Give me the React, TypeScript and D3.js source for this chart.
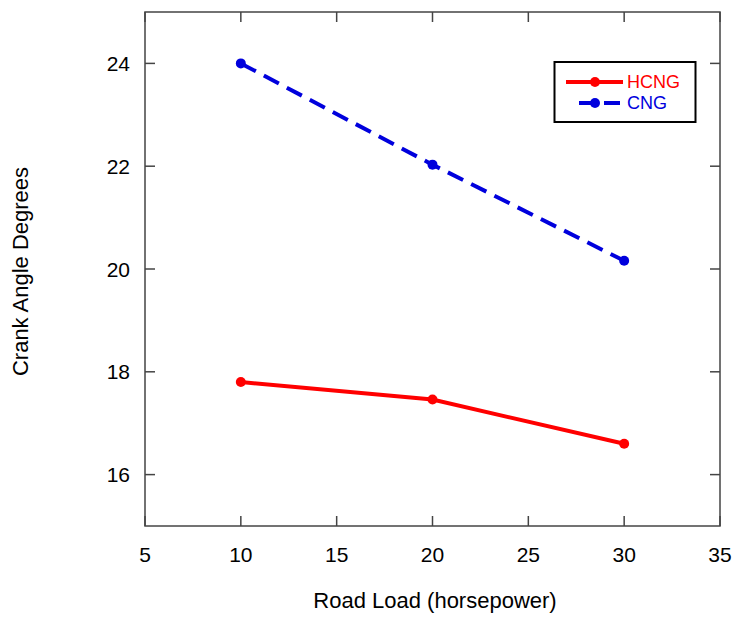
import React from "react";
import * as d3 from "d3";

const loads = [10, 20, 30];
const hcng = [17.8, 17.46, 16.6];
const cng = [24.0, 22.03, 20.16];
const xTicks = [5, 10, 15, 20, 25, 30, 35];
const yTicks = [16, 18, 20, 22, 24];

export default function App() {
  const W = 736, H = 618;
  const L = 145, R = 720, T = 12, B = 526;
  const x = d3.scaleLinear().domain([5, 35]).range([L, R]);
  const y = d3.scaleLinear().domain([15, 25]).range([B, T]);
  const line = d3.line<number>().x((_, i) => x(loads[i])).y((d) => y(d));
  const font = "'Liberation Sans', Arial, sans-serif";
  const axisColor = "#444";
  const tl = 10;
  return (
    <svg width={W} height={H} style={{ position: "absolute", left: 0, top: 0 }} fontFamily={font}>
      <rect x={L} y={T} width={R - L} height={B - T} fill="none" stroke={axisColor} strokeWidth={1.5} />
      {xTicks.map((t) => (
        <g key={"x" + t}>
          <line x1={x(t)} x2={x(t)} y1={B} y2={B - tl} stroke={axisColor} strokeWidth={1.5} />
          <line x1={x(t)} x2={x(t)} y1={T} y2={T + tl} stroke={axisColor} strokeWidth={1.5} />
          <text x={x(t)} y={562} textAnchor="middle" fontSize={21} fill="#000">{t}</text>
        </g>
      ))}
      {yTicks.map((t) => (
        <g key={"y" + t}>
          <line x1={L} x2={L + tl} y1={y(t)} y2={y(t)} stroke={axisColor} strokeWidth={1.5} />
          <line x1={R} x2={R - tl} y1={y(t)} y2={y(t)} stroke={axisColor} strokeWidth={1.5} />
          <text x={L - 15} y={y(t)} dy="0.36em" textAnchor="end" fontSize={21} fill="#000">{t}</text>
        </g>
      ))}
      <text x={435} y={608} textAnchor="middle" fontSize={22} fill="#000">Road Load (horsepower)</text>
      <text transform={`translate(28, 271.5) rotate(-90)`} textAnchor="middle" fontSize={22} fill="#000">Crank Angle Degrees</text>

      <path d={line(hcng) || ""} fill="none" stroke="#ff0000" strokeWidth={4} />
      {hcng.map((v, i) => (
        <circle key={"h" + i} cx={x(loads[i])} cy={y(v)} r={5} fill="#ff0000" />
      ))}
      <path d={line(cng) || ""} fill="none" stroke="#0000dd" strokeWidth={4} strokeDasharray="17,9" />
      {cng.map((v, i) => (
        <circle key={"c" + i} cx={x(loads[i])} cy={y(v)} r={5} fill="#0000dd" />
      ))}

      <rect x={554.5} y={62} width={141} height={60} fill="#fff" stroke="#000" strokeWidth={2} />
      <line x1={566} x2={623} y1={82} y2={82} stroke="#ff0000" strokeWidth={4} />
      <circle cx={595} cy={82} r={5} fill="#ff0000" />
      <text x={627} y={82} dy="0.36em" fontSize={18} fill="#ff0000">HCNG</text>
      <line x1={579} x2={620} y1={103} y2={103} stroke="#0000dd" strokeWidth={4} strokeDasharray="16,9" />
      <circle cx={595} cy={103} r={5} fill="#0000dd" />
      <text x={627} y={103} dy="0.36em" fontSize={18} fill="#0000dd">CNG</text>
    </svg>
  );
}
